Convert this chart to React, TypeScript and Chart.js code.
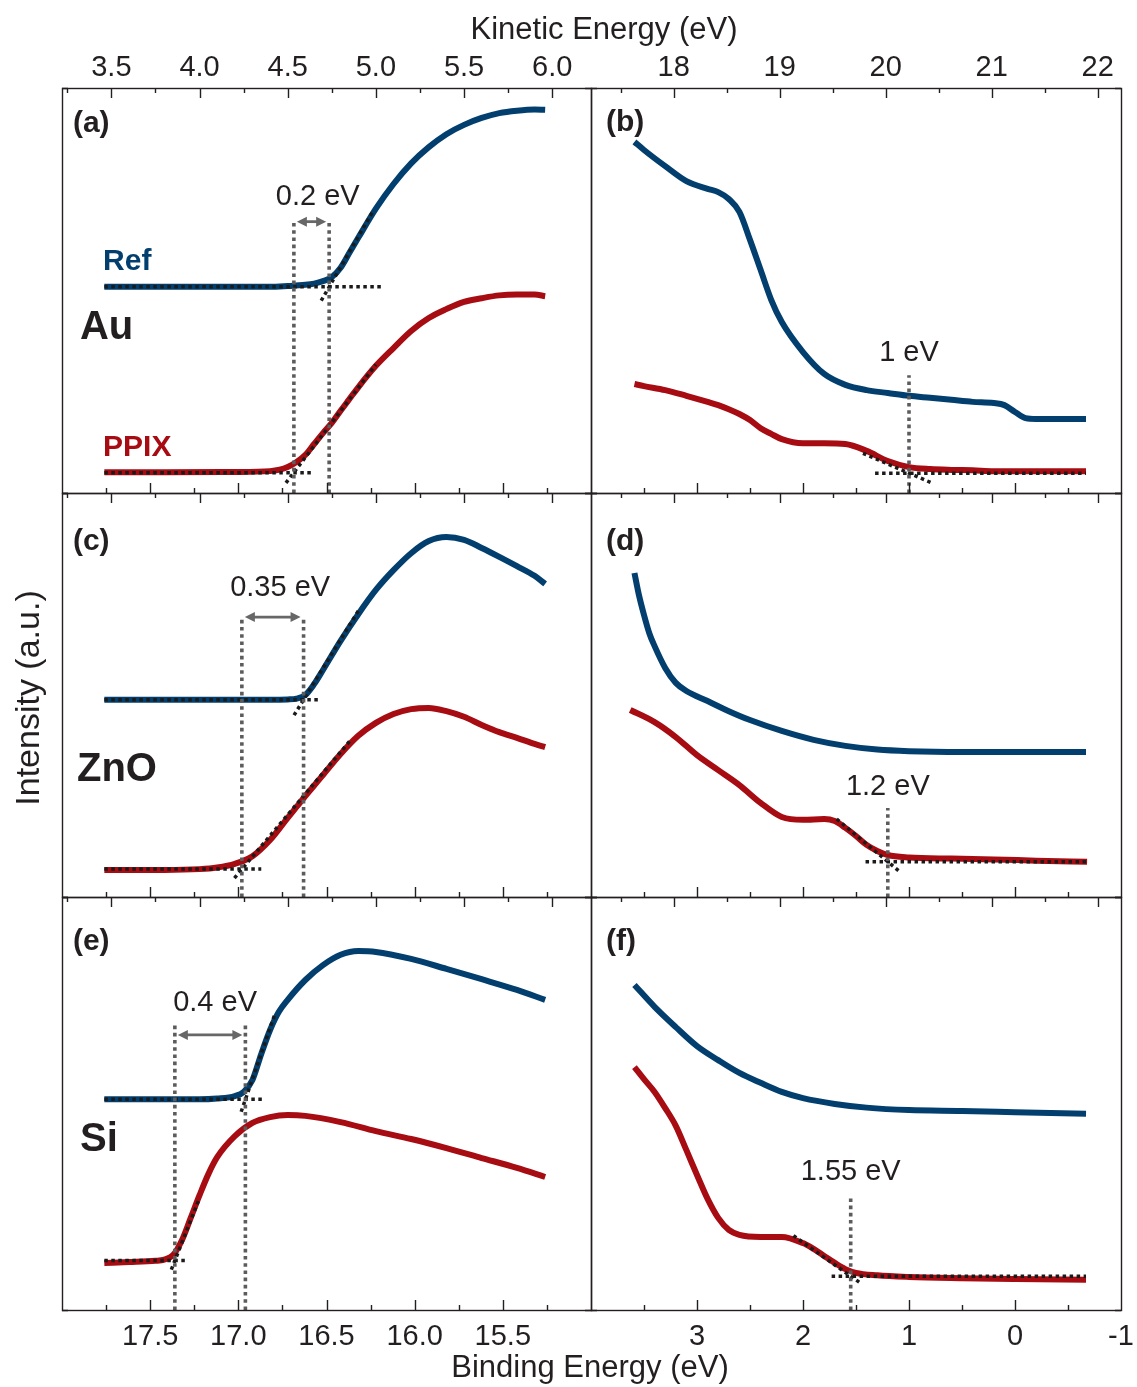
import { useEffect, useRef } from "react";
import { Chart, registerables } from "chart.js";

Chart.register(...registerables);

// He I photon energy: binding energy = PHOTON_EV - kinetic energy
const PHOTON_EV = 21.22;

const FIG_W = 1137;
const FIG_H = 1387;
const COL_EDGES = [62, 591, 1121];
const ROW_EDGES = [88, 493, 897, 1310];

const REF_COLOR = "#033f6e";
const PPIX_COLOR = "#a60c12";
const FIT_COLOR = "#1a1a1a";
const MARK_COLOR = "#5c5c5c";
const INK = "#231f20";
const FONT = '"Liberation Sans", Arial, Helvetica, sans-serif';

// kinetic-energy windows of the two columns (cut-off | valence band)
const keWindowCutoff = [3.22, 6.22];
const keWindowValence = [17.22, 22.22];

const keMajorCutoff = [3.5, 4.0, 4.5, 5.0, 5.5, 6.0];
const keMinorCutoff = [3.25, 3.75, 4.25, 4.75, 5.25, 5.75];
const beMajorCutoff = [17.5, 17.0, 16.5, 16.0, 15.5];
const beMinorCutoff = [17.75, 17.25, 16.75, 16.25, 15.75, 15.25];
const keMajorValence = [18, 19, 20, 21, 22];
const keMinorValence = [17.5, 18.5, 19.5, 20.5, 21.5];
const beMajorValence = [3, 2, 1, 0, -1];
const beMinorValence = [3.5, 2.5, 1.5, 0.5, -0.5];

// ---- (a) Au, secondary-electron cut-off (kinetic energy, eV / intensity a.u.)
const keA = [3.46, 3.8, 4.2, 4.4, 4.5, 4.6, 4.65, 4.7, 4.75, 4.8, 4.85, 4.9, 5.0, 5.1, 5.2, 5.3, 5.4, 5.5, 5.6, 5.7, 5.8, 5.9, 5.96];
const refA = [50.9, 50.9, 50.9, 50.9, 51.1, 51.4, 51.7, 52.3, 53.3, 55.6, 59.3, 63.0, 70.2, 76.3, 81.4, 85.4, 88.6, 90.9, 92.6, 93.8, 94.4, 94.7, 94.6];
const ppixA = [5.1, 5.1, 5.2, 5.4, 6.4, 9.4, 12.1, 14.8, 17.3, 20.3, 23.2, 26.1, 31.4, 35.8, 40.0, 43.2, 45.4, 47.2, 48.1, 48.8, 49.0, 49.0, 48.6];
const fitsA = [
  [[3.46, 50.9], [5.04, 50.9]],
  [[4.69, 47.5], [4.98, 69.3]],
  [[3.46, 5.0], [4.64, 5.0]],
  [[4.49, 2.5], [5.0, 31.7]],
];
const onsetPpixA = 4.535;
const shiftA = 0.2;

// ---- (b) Au, valence band (binding energy, eV)
const beB = [3.59, 3.5, 3.3, 3.1, 2.9, 2.8, 2.7, 2.6, 2.5, 2.4, 2.3, 2.2, 2.0, 1.8, 1.6, 1.4, 1.2, 1.0, 0.8, 0.6, 0.4, 0.2, 0.1, 0.0, -0.1, -0.2, -0.4, -0.67];
const refB = [86.7, 84.7, 80.7, 77.0, 75.1, 74.3, 72.6, 69.4, 62.5, 55.1, 47.7, 42.2, 34.8, 29.4, 26.7, 25.4, 24.7, 24.0, 23.5, 23.0, 22.5, 22.2, 21.7, 20.0, 18.5, 18.3, 18.3, 18.3];
const ppixB = [26.9, 26.4, 25.4, 24.0, 22.5, 21.7, 20.7, 19.5, 18.0, 16.0, 14.6, 13.3, 12.3, 12.3, 12.1, 10.4, 7.9, 6.4, 5.9, 5.7, 5.6, 5.4, 5.4, 5.4, 5.4, 5.4, 5.4, 5.4];
const fitsB = [
  [[1.32, 4.9], [-0.67, 4.9]],
  [[1.434, 9.8], [0.774, 2.36]],
];
const vbmB = 1;

// ---- (c) ZnO, cut-off
const keC = [3.46, 3.8, 4.0, 4.1, 4.2, 4.3, 4.4, 4.5, 4.55, 4.6, 4.65, 4.7, 4.8, 4.9, 5.0, 5.1, 5.2, 5.3, 5.4, 5.5, 5.6, 5.7, 5.8, 5.9, 5.96];
const refC = [48.8, 48.8, 48.8, 48.8, 48.8, 48.8, 48.8, 48.9, 49.1, 50.0, 52.7, 56.2, 63.4, 70.0, 76.0, 80.9, 85.1, 88.1, 89.1, 88.4, 86.4, 84.2, 81.9, 79.5, 77.5];
const ppixC = [6.7, 6.7, 6.9, 7.3, 8.2, 10.1, 14.1, 19.6, 22.3, 25.0, 27.6, 30.2, 35.4, 39.9, 43.1, 45.3, 46.5, 46.8, 46.0, 44.6, 42.6, 40.8, 39.4, 37.9, 37.1];
const fitsC = [
  [[3.46, 48.8], [4.69, 48.8]],
  [[4.536, 45.0], [4.9, 70.8]],
  [[3.46, 6.9], [4.35, 6.9]],
  [[4.198, 4.7], [4.854, 38.7]],
];
const onsetPpixC = 4.24;
const shiftC = 0.35;

// ---- (d) ZnO, valence band
const beRefD = [3.59, 3.55, 3.5, 3.45, 3.4, 3.3, 3.2, 3.1, 2.9, 2.7, 2.5, 2.2, 1.9, 1.6, 1.3, 1.0, 0.5, 0.0, -0.67];
const refD = [80.2, 75.0, 69.8, 65.3, 62.1, 56.7, 53.0, 51.0, 48.5, 46.0, 43.8, 41.1, 38.9, 37.4, 36.5, 36.1, 35.9, 35.9, 35.9];
const bePpixD = [3.63, 3.4, 3.2, 3.0, 2.8, 2.6, 2.4, 2.2, 2.0, 1.8, 1.7, 1.6, 1.5, 1.4, 1.3, 1.2, 1.0, 0.6, 0.2, -0.2, -0.68];
const ppixD = [46.3, 43.3, 39.6, 35.1, 31.4, 27.7, 23.3, 19.8, 19.1, 19.3, 18.8, 17.1, 15.1, 12.9, 11.4, 10.4, 9.8, 9.5, 9.3, 9.0, 8.7];
const fitsD = [
  [[1.41, 8.7], [-0.67, 8.7]],
  [[1.682, 19.3], [1.09, 6.3]],
];
const vbmD = 1.2;

// ---- (e) Si, cut-off
const keRefE = [3.46, 3.8, 4.0, 4.1, 4.2, 4.25, 4.3, 4.35, 4.4, 4.45, 4.5, 4.6, 4.7, 4.8, 4.9, 5.0, 5.2, 5.4, 5.6, 5.8, 5.96];
const refE = [51.0, 51.0, 51.0, 51.2, 51.8, 52.8, 55.7, 62.0, 67.8, 72.2, 75.1, 79.9, 83.5, 86.0, 86.9, 86.7, 85.0, 82.6, 80.1, 77.5, 75.1];
const kePpixE = [3.46, 3.6, 3.75, 3.8, 3.85, 3.9, 3.95, 4.0, 4.05, 4.1, 4.2, 4.3, 4.4, 4.5, 4.6, 4.8, 5.0, 5.2, 5.4, 5.6, 5.8, 5.96];
const ppixE = [11.4, 11.6, 11.9, 12.2, 13.3, 16.9, 22.3, 27.8, 32.9, 37.0, 42.1, 45.3, 46.7, 47.2, 47.0, 45.5, 43.3, 41.4, 39.2, 36.8, 34.4, 32.2];
const fitsE = [
  [[3.46, 51.0], [4.37, 51.0]],
  [[4.236, 48.0], [4.43, 72.0]],
  [[3.46, 12.0], [3.93, 12.0]],
  [[3.84, 9.8], [4.0, 27.1]],
];
const onsetPpixE = 3.86;
const shiftE = 0.4;

// ---- (f) Si, valence band
const beRefF = [3.59, 3.4, 3.2, 3.0, 2.8, 2.6, 2.4, 2.2, 2.0, 1.7, 1.4, 1.0, 0.5, 0.0, -0.67];
const refF = [78.7, 73.4, 68.5, 63.9, 60.5, 57.4, 55.0, 52.8, 51.3, 49.9, 49.0, 48.4, 48.2, 47.9, 47.5];
const bePpixF = [3.59, 3.5, 3.4, 3.3, 3.2, 3.1, 3.0, 2.9, 2.8, 2.7, 2.6, 2.4, 2.2, 2.0, 1.9, 1.8, 1.7, 1.6, 1.5, 1.3, 1.0, 0.5, 0.0, -0.67];
const ppixF = [58.8, 55.9, 52.8, 48.9, 44.6, 38.7, 32.7, 26.9, 22.3, 19.4, 18.2, 17.7, 17.7, 16.2, 14.8, 13.1, 11.4, 9.9, 9.0, 8.4, 8.0, 7.7, 7.5, 7.3];
const fitsF = [
  [[1.73, 8.2], [-0.67, 8.2]],
  [[2.09, 18.0], [1.446, 6.3]],
];
const vbmF = 1.55;

type XY = number[];
interface Label {
  text: string;
  at: XY;
  color?: string;
}
interface PanelSpec {
  key: string;
  col: number;
  row: number;
  letter: Label;
  curves: { xs: number[]; ys: number[]; color: string }[];
  fits: number[][][];
  markers: number[];
  markerTop: number;
  arrowY?: number;
  note: Label;
  material?: Label;
  legend?: Label[];
}

const panels: PanelSpec[] = [
  {
    key: "a", col: 0, row: 0,
    letter: { text: "(a)", at: [3.282, 91.1] },
    curves: [
      { xs: keA, ys: refA, color: REF_COLOR },
      { xs: keA, ys: ppixA, color: PPIX_COLOR },
    ],
    fits: fitsA,
    markers: [onsetPpixA, onsetPpixA + shiftA],
    markerTop: 67.2, arrowY: 67.0,
    note: { text: `${shiftA} eV`, at: [4.67, 73.2] },
    material: { text: "Au", at: [3.322, 40.7] },
    legend: [
      { text: "Ref", at: [3.453, 57.0], color: REF_COLOR },
      { text: "PPIX", at: [3.453, 11.1], color: PPIX_COLOR },
    ],
  },
  {
    key: "b", col: 1, row: 0,
    letter: { text: "(b)", at: [3.858, 91.4] },
    curves: [
      { xs: beB, ys: refB, color: REF_COLOR },
      { xs: beB, ys: ppixB, color: PPIX_COLOR },
    ],
    fits: fitsB,
    markers: [vbmB],
    markerTop: 29.1,
    note: { text: `${vbmB} eV`, at: [vbmB, 34.6] },
  },
  {
    key: "c", col: 0, row: 1,
    letter: { text: "(c)", at: [3.282, 87.9] },
    curves: [
      { xs: keC, ys: refC, color: REF_COLOR },
      { xs: keC, ys: ppixC, color: PPIX_COLOR },
    ],
    fits: fitsC,
    markers: [onsetPpixC, onsetPpixC + shiftC],
    markerTop: 69.3, arrowY: 69.3,
    note: { text: `${shiftC} eV`, at: [4.457, 76.5] },
    material: { text: "ZnO", at: [3.305, 31.4] },
  },
  {
    key: "d", col: 1, row: 1,
    letter: { text: "(d)", at: [3.858, 87.9] },
    curves: [
      { xs: beRefD, ys: refD, color: REF_COLOR },
      { xs: bePpixD, ys: ppixD, color: PPIX_COLOR },
    ],
    fits: fitsD,
    markers: [vbmD],
    markerTop: 22.0,
    note: { text: `${vbmD} eV`, at: [vbmD, 27.3] },
  },
  {
    key: "e", col: 0, row: 2,
    letter: { text: "(e)", at: [3.282, 89.1] },
    curves: [
      { xs: keRefE, ys: refE, color: REF_COLOR },
      { xs: kePpixE, ys: ppixE, color: PPIX_COLOR },
    ],
    fits: fitsE,
    markers: [onsetPpixE, onsetPpixE + shiftE],
    markerTop: 69.0, arrowY: 66.6,
    note: { text: `${shiftE} eV`, at: [4.088, 74.3] },
    material: { text: "Si", at: [3.322, 41.2] },
  },
  {
    key: "f", col: 1, row: 2,
    letter: { text: "(f)", at: [3.858, 89.1] },
    curves: [
      { xs: beRefF, ys: refF, color: REF_COLOR },
      { xs: bePpixF, ys: ppixF, color: PPIX_COLOR },
    ],
    fits: fitsF,
    markers: [vbmF],
    markerTop: 27.8,
    note: { text: `${vbmF} eV`, at: [vbmF, 33.5] },
  },
];

function drawTicks(ctx: CanvasRenderingContext2D, scale: any, values: number[], edge: number, len: number, area: any) {
  ctx.beginPath();
  for (const v of values) {
    const px = Math.round(scale.getPixelForValue(v)) + 0.5;
    if (px < area.left + 2 || px > area.right - 2) continue;
    ctx.moveTo(px, edge);
    ctx.lineTo(px, edge + len);
  }
  ctx.stroke();
}

function drawDoubleArrow(ctx: CanvasRenderingContext2D, x0: number, x1: number, y: number) {
  const head = 10;
  const half = 5;
  ctx.strokeStyle = "#676767";
  ctx.fillStyle = "#676767";
  ctx.lineWidth = 2.8;
  ctx.beginPath();
  ctx.moveTo(x0 + head - 1, y);
  ctx.lineTo(x1 - head + 1, y);
  ctx.stroke();
  ctx.beginPath();
  ctx.moveTo(x0, y);
  ctx.lineTo(x0 + head, y - half);
  ctx.lineTo(x0 + head, y + half);
  ctx.closePath();
  ctx.moveTo(x1, y);
  ctx.lineTo(x1 - head, y - half);
  ctx.lineTo(x1 - head, y + half);
  ctx.closePath();
  ctx.fill();
}

function decorations(spec: PanelSpec) {
  return {
    id: "panelDecor",
    afterDatasetsDraw(chart: any) {
      const { ctx, chartArea: a } = chart;
      const ke = chart.scales.ke;
      const be = chart.scales.be;
      const y = chart.scales.y;
      const cutoff = spec.col === 0;
      const dataX = cutoff ? ke : be;
      ctx.save();

      if (spec.arrowY !== undefined) {
        const yy = y.getPixelForValue(spec.arrowY);
        drawDoubleArrow(
          ctx,
          dataX.getPixelForValue(spec.markers[0]) + 3,
          dataX.getPixelForValue(spec.markers[1]) - 3,
          yy
        );
      }

      // frame and inward ticks
      ctx.strokeStyle = INK;
      ctx.lineWidth = 1.4;
      ctx.strokeRect(a.left + 0.5, a.top + 0.5, a.right - a.left, a.bottom - a.top);
      drawTicks(ctx, ke, cutoff ? keMajorCutoff : keMajorValence, a.top, 10, a);
      drawTicks(ctx, ke, cutoff ? keMinorCutoff : keMinorValence, a.top, 5, a);
      drawTicks(ctx, be, cutoff ? beMajorCutoff : beMajorValence, a.bottom, -10, a);
      drawTicks(ctx, be, cutoff ? beMinorCutoff : beMinorValence, a.bottom, -5, a);
      ctx.beginPath();
      for (const yy of [a.top + 0.5, a.bottom + 0.5]) {
        ctx.moveTo(a.left, yy);
        ctx.lineTo(a.left + 6, yy);
        ctx.moveTo(a.right, yy);
        ctx.lineTo(a.right - 6, yy);
      }
      ctx.stroke();

      ctx.fillStyle = INK;
      ctx.textAlign = "center";
      ctx.textBaseline = "middle";
      ctx.font = `29px ${FONT}`;
      if (spec.row === 0) {
        for (const v of cutoff ? keMajorCutoff : keMajorValence) {
          ctx.fillText(cutoff ? v.toFixed(1) : String(v), ke.getPixelForValue(v), a.top - 20);
        }
      }
      if (spec.row === 2) {
        for (const v of cutoff ? beMajorCutoff : beMajorValence) {
          ctx.fillText(cutoff ? v.toFixed(1) : String(v), be.getPixelForValue(v), a.bottom + 27);
        }
      }

      // annotation of the shift / onset
      ctx.fillText(spec.note.text, dataX.getPixelForValue(spec.note.at[0]), y.getPixelForValue(spec.note.at[1]));

      ctx.textAlign = "left";
      ctx.font = `bold 30px ${FONT}`;
      ctx.fillText(spec.letter.text, dataX.getPixelForValue(spec.letter.at[0]), y.getPixelForValue(spec.letter.at[1]));
      if (spec.legend) {
        ctx.font = `bold 30px ${FONT}`;
        for (const l of spec.legend) {
          ctx.fillStyle = l.color || INK;
          ctx.fillText(l.text, dataX.getPixelForValue(l.at[0]), y.getPixelForValue(l.at[1]));
        }
        ctx.fillStyle = INK;
      }
      if (spec.material) {
        ctx.font = `bold 40px ${FONT}`;
        ctx.fillText(spec.material.text, dataX.getPixelForValue(spec.material.at[0]), y.getPixelForValue(spec.material.at[1]));
      }

      // figure-wide axis titles
      ctx.textAlign = "center";
      ctx.font = `31px ${FONT}`;
      if (spec.key === "a") {
        ctx.fillText("Kinetic Energy (eV)", 604, 30);
      }
      if (spec.key === "e") {
        ctx.fillText("Binding Energy (eV)", 590, 1368);
        ctx.font = `34px ${FONT}`;
        ctx.translate(30, 698);
        ctx.rotate(-Math.PI / 2);
        ctx.fillText("Intensity (a.u.)", 0, 0);
      }
      ctx.restore();
    },
  };
}

function buildConfig(spec: PanelSpec): any {
  const cutoff = spec.col === 0;
  const left = COL_EDGES[spec.col];
  const right = COL_EDGES[spec.col + 1];
  const top = ROW_EDGES[spec.row];
  const bottom = ROW_EDGES[spec.row + 1];
  const keWin = cutoff ? keWindowCutoff : keWindowValence;
  const dataAxis = cutoff ? "ke" : "be";

  const datasets: any[] = [];
  for (const m of spec.markers) {
    datasets.push({
      data: [{ x: m, y: 0 }, { x: m, y: spec.markerTop }],
      borderColor: MARK_COLOR,
      borderWidth: 3.6,
      borderDash: [3.6, 3.6],
      borderCapStyle: "butt",
      pointRadius: 0,
      xAxisID: dataAxis,
      yAxisID: "y",
      order: 0,
    });
  }
  for (const seg of spec.fits) {
    datasets.push({
      data: seg.map(([x, yv]) => ({ x, y: yv })),
      borderColor: FIT_COLOR,
      borderWidth: 3.5,
      borderDash: [3.5, 3.5],
      borderCapStyle: "butt",
      pointRadius: 0,
      xAxisID: dataAxis,
      yAxisID: "y",
      order: 1,
    });
  }
  for (const c of spec.curves) {
    datasets.push({
      data: c.xs.map((x, i) => ({ x, y: c.ys[i] })),
      borderColor: c.color,
      borderWidth: 6,
      borderJoinStyle: "round",
      borderCapStyle: "butt",
      cubicInterpolationMode: "monotone",
      pointRadius: 0,
      xAxisID: dataAxis,
      yAxisID: "y",
      order: 2,
    });
  }

  return {
    type: "line",
    data: { datasets },
    options: {
      responsive: false,
      animation: false,
      devicePixelRatio: 1,
      events: [],
      layout: {
        padding: { left, top, right: FIG_W - right, bottom: FIG_H - bottom },
      },
      plugins: { legend: { display: false }, tooltip: { enabled: false } },
      scales: {
        ke: { type: "linear", axis: "x", position: "top", min: keWin[0], max: keWin[1], display: false },
        be: {
          type: "linear", axis: "x", position: "bottom",
          min: PHOTON_EV - keWin[1], max: PHOTON_EV - keWin[0], reverse: true, display: false,
        },
        y: { type: "linear", axis: "y", min: 0, max: 100, display: false },
      },
    },
    plugins: [decorations(spec)],
  };
}

function Panel({ spec }: { spec: PanelSpec }) {
  const ref = useRef<HTMLCanvasElement>(null);
  useEffect(() => {
    if (!ref.current) return;
    const chart = new Chart(ref.current, buildConfig(spec));
    return () => chart.destroy();
  }, [spec]);
  return (
    <canvas
      ref={ref}
      width={FIG_W}
      height={FIG_H}
      style={{ position: "absolute", left: 0, top: 0, width: FIG_W, height: FIG_H }}
    />
  );
}

export default function App() {
  return (
    <div style={{ position: "absolute", left: 0, top: 0, width: FIG_W, height: FIG_H, background: "#fff" }}>
      {panels.map((p) => (
        <Panel key={p.key} spec={p} />
      ))}
    </div>
  );
}
